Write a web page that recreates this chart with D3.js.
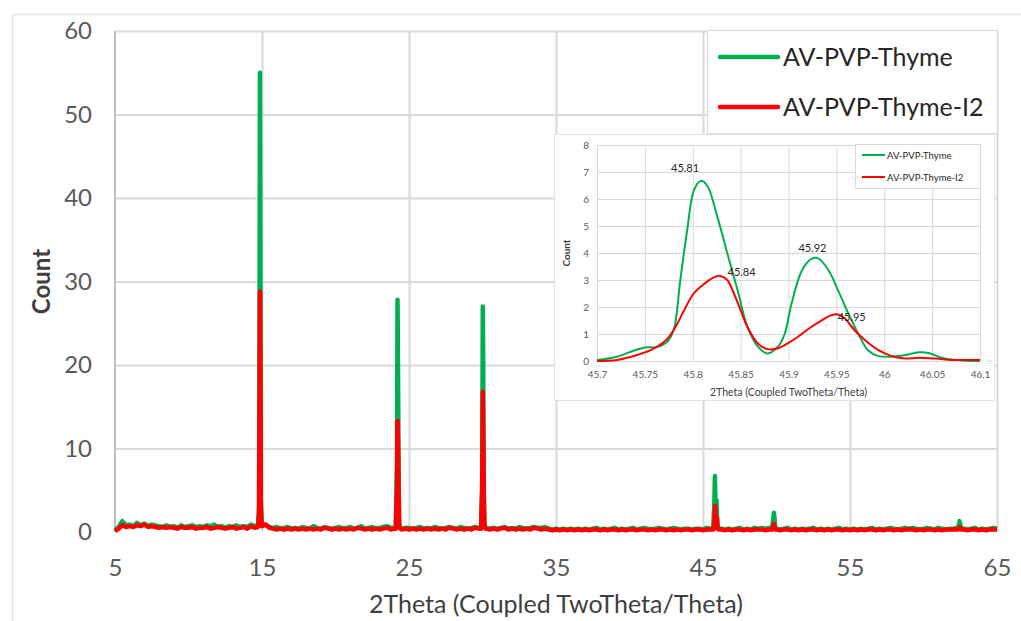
<!DOCTYPE html>
<html>
<head>
<meta charset="utf-8">
<script src="https://cdn.jsdelivr.net/npm/d3@7"></script>
<style>
  html, body { margin: 0; padding: 0; background: #fff; }
  svg { display: block; font-family: Lato, "Open Sans", sans-serif; }
  .grid line { stroke: #d9d9d9; }
  .grid path { display: none; }
</style>
</head>
<body>
<div id="chart"></div>
<script>
// --- XRD pattern: AV-PVP-Thyme vs AV-PVP-Thyme-I2 ---------------------------

const SERIES_NAMES = ['AV-PVP-Thyme', 'AV-PVP-Thyme-I2'];
const SERIES_COLORS = ['#00b050', '#ff0000'];

const X_TICKS = [5, 15, 25, 35, 45, 55, 65];
const Y_TICKS = [0, 10, 20, 30, 40, 50, 60];

// baseline scan, one value every 0.25 deg from 5 to 65
const SCAN_START = 5, SCAN_STEP = 0.25;

const baseGreen = [
  0.2,0.6,1.3,0.8,0.9,0.7,1.1,0.8,1.0,0.7,0.9,0.8,
  0.7,0.6,0.8,0.6,0.7,0.5,0.8,0.6,0.7,0.8,0.6,0.7,
  0.6,0.8,0.7,0.9,0.6,0.7,0.5,0.7,0.6,0.8,0.6,0.7,
  0.6,0.9,0.7,0.8,0.8,0.9,0.6,0.5,0.6,0.4,0.5,0.6,
  0.4,0.5,0.4,0.6,0.5,0.4,0.7,0.5,0.4,0.6,0.5,0.4,
  0.5,0.6,0.4,0.5,0.6,0.4,0.5,0.7,0.4,0.5,0.6,0.4,
  0.5,0.6,0.7,0.5,0.5,0.5,0.4,0.5,0.5,0.4,0.5,0.6,
  0.4,0.5,0.4,0.6,0.5,0.4,0.5,0.6,0.5,0.4,0.6,0.5,
  0.4,0.5,0.6,0.5,0.5,0.5,0.4,0.5,0.4,0.5,0.6,0.4,
  0.5,0.4,0.6,0.5,0.4,0.5,0.6,0.5,0.5,0.6,0.4,0.3,
  0.4,0.3,0.4,0.3,0.4,0.3,0.4,0.3,0.4,0.3,0.4,0.5,
  0.3,0.4,0.3,0.4,0.5,0.3,0.4,0.3,0.4,0.5,0.3,0.4,
  0.5,0.4,0.3,0.4,0.5,0.4,0.3,0.4,0.5,0.4,0.3,0.4,
  0.4,0.3,0.4,0.4,0.3,0.5,0.4,0.4,0.5,0.4,0.3,0.4,
  0.3,0.4,0.5,0.3,0.4,0.3,0.5,0.4,0.5,0.4,0.5,0.4,
  0.4,0.3,0.4,0.5,0.3,0.4,0.3,0.4,0.3,0.4,0.5,0.3,
  0.4,0.3,0.4,0.3,0.4,0.5,0.3,0.4,0.3,0.4,0.3,0.4,
  0.3,0.4,0.5,0.3,0.4,0.3,0.4,0.5,0.4,0.3,0.4,0.5,
  0.4,0.5,0.4,0.3,0.4,0.5,0.4,0.3,0.5,0.4,0.3,0.4,
  0.4,0.5,0.5,0.4,0.3,0.4,0.5,0.3,0.4,0.3,0.4,0.5,
  0.4
];

const baseRed = [
  0.1,0.4,0.8,0.6,0.7,0.6,0.8,0.7,0.9,0.6,0.7,0.6,
  0.5,0.6,0.5,0.6,0.5,0.4,0.6,0.5,0.5,0.6,0.4,0.5,
  0.5,0.6,0.4,0.5,0.6,0.5,0.4,0.5,0.6,0.4,0.5,0.6,
  0.4,0.7,0.5,0.8,0.7,0.9,0.5,0.4,0.3,0.4,0.3,0.4,
  0.3,0.4,0.3,0.4,0.3,0.4,0.3,0.4,0.3,0.5,0.4,0.3,
  0.4,0.3,0.4,0.3,0.4,0.3,0.5,0.4,0.3,0.4,0.3,0.4,
  0.3,0.4,0.5,0.3,0.4,0.4,0.3,0.4,0.3,0.4,0.3,0.4,
  0.3,0.4,0.3,0.4,0.3,0.4,0.3,0.5,0.4,0.3,0.4,0.3,
  0.4,0.3,0.5,0.4,0.4,0.4,0.3,0.4,0.3,0.4,0.5,0.3,
  0.4,0.3,0.4,0.3,0.4,0.3,0.5,0.4,0.3,0.4,0.3,0.2,
  0.3,0.2,0.3,0.2,0.3,0.2,0.3,0.2,0.3,0.2,0.3,0.3,
  0.2,0.3,0.2,0.3,0.3,0.2,0.3,0.2,0.3,0.3,0.2,0.3,
  0.3,0.2,0.3,0.2,0.3,0.3,0.2,0.3,0.2,0.3,0.2,0.3,
  0.3,0.2,0.3,0.3,0.2,0.3,0.3,0.3,0.3,0.3,0.2,0.3,
  0.2,0.3,0.3,0.2,0.3,0.2,0.3,0.3,0.3,0.2,0.3,0.3,
  0.3,0.2,0.3,0.3,0.2,0.3,0.2,0.3,0.2,0.3,0.3,0.2,
  0.3,0.2,0.3,0.2,0.3,0.3,0.2,0.3,0.2,0.3,0.2,0.3,
  0.2,0.3,0.3,0.2,0.3,0.2,0.3,0.3,0.2,0.3,0.2,0.3,
  0.3,0.3,0.2,0.3,0.2,0.3,0.3,0.2,0.3,0.2,0.3,0.3,
  0.3,0.3,0.3,0.3,0.2,0.3,0.3,0.2,0.3,0.2,0.3,0.3,
  0.3
];

// diffraction peaks, [2theta, count]
const peaksGreen = [
  [[14.72,0.8],[14.80,3],[14.84,30],[14.86,55],[14.89,35],[14.92,4],[14.98,0.9]],
  [[24.10,0.5],[24.18,8],[24.22,27.8],[24.25,20],[24.27,14.6],[24.29,8],[24.33,1],[24.40,0.5]],
  [[29.90,0.5],[29.98,6],[30.02,27],[30.05,20],[30.08,7.5],[30.12,1],[30.20,0.5]],
  [[45.70,0.4],[45.78,4],[45.81,6.7],[45.85,3],[45.88,0.6],[45.92,3.8],[45.97,1.0],[46.05,0.4]],
  [[49.70,0.5],[49.78,1.6],[49.82,2.3],[49.86,1.8],[49.92,0.5]],
  [[62.35,0.5],[62.42,1.0],[62.45,1.3],[62.50,0.9],[62.55,0.5]]
];
const peaksRed = [
  [[14.72,0.6],[14.80,2],[14.84,20],[14.86,28.8],[14.89,18],[14.92,3],[14.98,0.7]],
  [[24.10,0.4],[24.18,5],[24.22,13.3],[24.26,10],[24.29,6],[24.33,0.8],[24.40,0.4]],
  [[29.90,0.4],[29.98,5],[30.02,16.8],[30.06,10],[30.09,4],[30.13,0.8],[30.20,0.4]],
  [[45.70,0.3],[45.78,1.5],[45.83,3.1],[45.88,0.5],[45.95,1.7],[46.00,0.4],[46.05,0.3]],
  [[49.70,0.3],[49.78,0.6],[49.82,1.0],[49.86,0.7],[49.92,0.3]],
  [[62.35,0.3],[62.42,0.5],[62.45,0.6],[62.50,0.4],[62.55,0.3]]
];

// inset: zoom on the 45.7 - 46.1 doublet
const INSET_X_TICKS = [45.7, 45.75, 45.8, 45.85, 45.9, 45.95, 46, 46.05, 46.1];
const INSET_Y_TICKS = [0, 1, 2, 3, 4, 5, 6, 7, 8];

const insetGreen = [
  [45.700,0.04],[45.721,0.16],[45.738,0.38],[45.750,0.50],[45.763,0.52],[45.773,0.70],
  [45.780,1.14],[45.787,3.0],[45.794,4.8],[45.801,6.3],[45.808,6.67],[45.815,6.5],
  [45.826,5.3],[45.836,4.0],[45.847,2.6],[45.857,1.27],[45.868,0.53],[45.878,0.28],
  [45.889,0.53],[45.896,1.0],[45.903,2.1],[45.914,3.35],[45.924,3.78],[45.931,3.8],
  [45.942,3.35],[45.952,2.6],[45.962,1.8],[45.973,1.0],[45.983,0.4],[45.994,0.18],
  [46.008,0.16],[46.022,0.22],[46.036,0.32],[46.046,0.30],[46.060,0.12],[46.074,0.04],
  [46.100,0.0]
];
const insetRed = [
  [45.700,0.0],[45.721,0.04],[45.742,0.22],[45.756,0.40],[45.770,0.70],[45.780,1.14],
  [45.791,1.88],[45.801,2.5],[45.812,2.86],[45.822,3.1],[45.829,3.15],[45.836,3.0],
  [45.843,2.5],[45.850,1.88],[45.857,1.27],[45.868,0.65],[45.878,0.44],[45.889,0.47],
  [45.899,0.65],[45.910,0.90],[45.924,1.27],[45.934,1.49],[45.945,1.70],[45.952,1.72],
  [45.959,1.57],[45.969,1.14],[45.980,0.77],[45.994,0.40],[46.008,0.18],[46.022,0.09],
  [46.036,0.12],[46.054,0.09],[46.071,0.04],[46.100,0.04]
];

// peak-position labels placed at [2theta, count] of the label centre
const insetLabels = [
  { text: '45.81', at: [45.792, 7.15] },
  { text: '45.84', at: [45.851, 3.3] },
  { text: '45.92', at: [45.925, 4.2] },
  { text: '45.95', at: [45.966, 1.62] }
];

function buildSeries(base, peaks) {
  let pts = base.map((v, i) => [SCAN_START + i * SCAN_STEP, v]);
  peaks.forEach(pk => {
    const lo = pk[0][0], hi = pk[pk.length - 1][0];
    pts = pts.filter(p => p[0] < lo || p[0] > hi).concat(pk);
  });
  return pts.sort((a, b) => a[0] - b[0]);
}

const W = 1021, H = 621;
const svg = d3.select('#chart').append('svg')
  .attr('width', W).attr('height', H);

svg.append('rect').attr('width', W).attr('height', H).attr('fill', '#fff');
// figure frame
svg.append('rect')
  .attr('x', 12.5).attr('y', 14.5).attr('width', 1100).attr('height', 700)
  .attr('fill', 'none').attr('stroke', '#e3e3e3').attr('stroke-width', 1.5);

// --- main plot --------------------------------------------------------------
const x = d3.scaleLinear().domain([5, 65]).range([115, 997]);
const y = d3.scaleLinear().domain([0, 60]).range([532, 31]);

svg.append('g').attr('class', 'grid')
  .attr('transform', `translate(0,${y(0)})`)
  .call(d3.axisBottom(x).tickValues(X_TICKS.slice(1)).tickSize(-(y(0) - y(60))).tickFormat(''))
  .selectAll('line').attr('stroke-width', 2);
svg.append('g').attr('class', 'grid')
  .attr('transform', `translate(${x(5)},0)`)
  .call(d3.axisLeft(y).tickValues(Y_TICKS.slice(1)).tickSize(-(x(65) - x(5))).tickFormat(''))
  .selectAll('line').attr('stroke-width', 2);

svg.append('line')
  .attr('x1', x(5)).attr('x2', x(5)).attr('y1', y(60)).attr('y2', y(0))
  .attr('stroke', '#bfbfbf').attr('stroke-width', 2);

const mainLine = d3.line().x(d => x(d[0])).y(d => y(d[1]));
const mainData = [buildSeries(baseGreen, peaksGreen), buildSeries(baseRed, peaksRed)];
mainData.forEach((s, i) => {
  svg.append('path').datum(s)
    .attr('d', mainLine)
    .attr('fill', 'none')
    .attr('stroke', SERIES_COLORS[i])
    .attr('stroke-width', 4.5)
    .attr('stroke-linejoin', 'round');
});

// tick labels
const xAx = svg.append('g').attr('transform', `translate(0,${y(0)})`)
  .call(d3.axisBottom(x).tickValues(X_TICKS).tickSize(0).tickPadding(27));
const yAx = svg.append('g').attr('transform', `translate(${x(5) - 23},0)`)
  .call(d3.axisLeft(y).tickValues(Y_TICKS).tickSize(0).tickPadding(0));
[xAx, yAx].forEach(g => {
  g.select('.domain').remove();
  g.selectAll('text')
    .attr('font-family', 'Lato, sans-serif')
    .attr('font-size', 24).attr('fill', '#595959');
});

svg.append('text')
  .attr('x', (x(5) + x(65)) / 2).attr('y', 613)
  .attr('text-anchor', 'middle')
  .attr('font-size', 25).attr('fill', '#404040')
  .text('2Theta (Coupled TwoTheta/Theta)');
svg.append('text')
  .attr('transform', `translate(50,${(y(0) + y(60)) / 2}) rotate(-90)`)
  .attr('text-anchor', 'middle')
  .attr('font-size', 24).attr('font-weight', 'bold').attr('fill', '#404040')
  .text('Count');

// main legend
const leg = svg.append('g');
leg.append('rect')
  .attr('x', 707.5).attr('y', 30.5).attr('width', 290).attr('height', 103)
  .attr('fill', '#fff').attr('stroke', '#d9d9d9');
SERIES_NAMES.forEach((name, i) => {
  const ly = 57 + i * 50;
  leg.append('line')
    .attr('x1', 720).attr('x2', 778).attr('y1', ly).attr('y2', ly)
    .attr('stroke', SERIES_COLORS[i]).attr('stroke-width', 4.5).attr('stroke-linecap', 'round');
  leg.append('text')
    .attr('x', 783).attr('y', ly + 9)
    .attr('font-size', 25).attr('fill', '#262626')
    .text(name);
});

// --- inset ------------------------------------------------------------------
const inset = svg.append('g');
inset.append('rect')
  .attr('x', 554.5).attr('y', 134.5).attr('width', 440).attr('height', 266)
  .attr('fill', '#fff').attr('stroke', '#e3e3e3');

const ix = d3.scaleLinear().domain([45.7, 46.1]).range([597, 980]);
const iy = d3.scaleLinear().domain([0, 8]).range([361, 145]);

inset.append('g').attr('class', 'grid')
  .attr('transform', `translate(0,${iy(0)})`)
  .call(d3.axisBottom(ix).tickValues(INSET_X_TICKS).tickSize(-(iy(0) - iy(8))).tickFormat(''));
inset.append('g').attr('class', 'grid')
  .attr('transform', `translate(${ix(45.7)},0)`)
  .call(d3.axisLeft(iy).tickValues(INSET_Y_TICKS).tickSize(-(ix(46.1) - ix(45.7))).tickFormat(''));

const insetLine = d3.line().x(d => ix(d[0])).y(d => iy(d[1])).curve(d3.curveCatmullRom.alpha(0.5));
[insetGreen, insetRed].forEach((s, i) => {
  inset.append('path').datum(s)
    .attr('d', insetLine)
    .attr('fill', 'none')
    .attr('stroke', SERIES_COLORS[i])
    .attr('stroke-width', 2);
});

const ixAx = inset.append('g').attr('transform', `translate(0,${iy(0)})`)
  .call(d3.axisBottom(ix).tickValues(INSET_X_TICKS).tickFormat(d3.format('')).tickSize(0).tickPadding(10));
const iyAx = inset.append('g').attr('transform', `translate(${ix(45.7) - 8},0)`)
  .call(d3.axisLeft(iy).tickValues(INSET_Y_TICKS).tickSize(0).tickPadding(0));
[ixAx, iyAx].forEach(g => {
  g.select('.domain').remove();
  g.selectAll('text')
    .attr('font-family', 'Lato, sans-serif')
    .attr('font-size', 10).attr('fill', '#595959');
});

inset.append('text')
  .attr('x', (ix(45.7) + ix(46.1)) / 2).attr('y', 396)
  .attr('text-anchor', 'middle')
  .attr('font-size', 10.5).attr('fill', '#404040')
  .text('2Theta (Coupled TwoTheta/Theta)');
inset.append('text')
  .attr('transform', `translate(570,${(iy(0) + iy(8)) / 2}) rotate(-90)`)
  .attr('text-anchor', 'middle')
  .attr('font-size', 10).attr('font-weight', 'bold').attr('fill', '#404040')
  .text('Count');

inset.selectAll('text.plabel')
  .data(insetLabels)
  .join('text')
    .attr('class', 'plabel')
    .attr('x', d => ix(d.at[0]))
    .attr('y', d => iy(d.at[1]) + 4)
    .attr('text-anchor', 'middle')
    .attr('font-size', 11).attr('fill', '#262626')
    .text(d => d.text);

// inset legend
inset.append('rect')
  .attr('x', 855.5).attr('y', 144.5).attr('width', 125).attr('height', 44)
  .attr('fill', '#fff').attr('stroke', '#d9d9d9');
SERIES_NAMES.forEach((name, i) => {
  const ly = 155 + i * 22;
  inset.append('line')
    .attr('x1', 862).attr('x2', 885).attr('y1', ly).attr('y2', ly)
    .attr('stroke', SERIES_COLORS[i]).attr('stroke-width', 2);
  inset.append('text')
    .attr('x', 887).attr('y', ly + 3.5)
    .attr('font-size', 9.5).attr('fill', '#262626')
    .text(name);
});
</script>
</body>
</html>
